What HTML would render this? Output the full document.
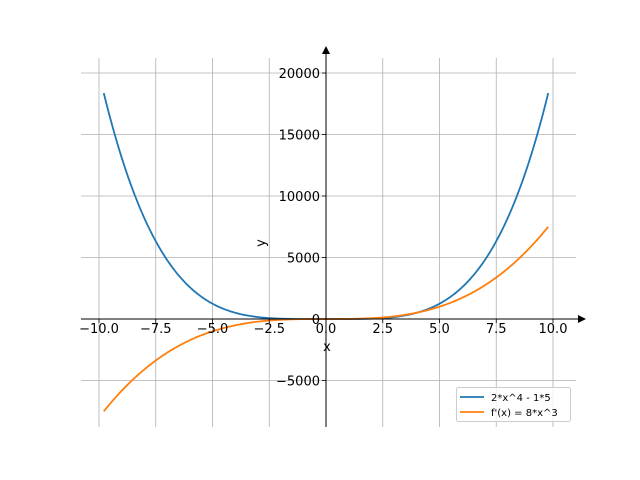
<!DOCTYPE html>
<html><head><style>body{margin:0;background:#fff}svg{display:block}text{font-family:"DejaVu Sans","Liberation Sans",sans-serif;font-size:13px;fill:#000}</style></head>
<body>
<svg id="s" width="640" height="480" xmlns="http://www.w3.org/2000/svg">
<g id="grid" stroke="#b0b0b0" stroke-width="0.8"></g>
<path id="b" fill="none" stroke="#1f77b4" stroke-width="1.8"/>
<path id="o" fill="none" stroke="#ff7f0e" stroke-width="1.8"/>
<line x1="81" y1="319" x2="580" y2="319" stroke="#000" stroke-width="1"/>
<polygon points="586,319 578,315 578,323" fill="#000"/>
<line x1="326" y1="427" x2="326" y2="53" stroke="#000" stroke-width="1"/>
<polygon points="326,46 322,54 330,54" fill="#000"/>
<g id="ticks" stroke="#000" stroke-width="0.8"></g>
<g id="labels"></g>
<text x="327" y="351" text-anchor="middle">x</text>
<text transform="translate(265,243) rotate(-90)" text-anchor="middle">y</text>
<rect x="456.5" y="387.5" width="114" height="34" rx="2" fill="#fff" fill-opacity="0.8" stroke="#ccc"/>
<line x1="460" y1="397" x2="484" y2="397" stroke="#1f77b4" stroke-width="1.8"/>
<line x1="460" y1="412" x2="484" y2="412" stroke="#ff7f0e" stroke-width="1.8"/>
<text x="491" y="401" style="font-size:10px">2*x^4 - 1*5</text>
<text x="491" y="416" style="font-size:10px">f'(x) = 8*x^3</text>
</svg>
<script>
var X=function(v){return 326+v*22.7},Y=function(v){return 319-v*0.0123};
var g='',t='',l='';
for(var i=-4;i<=4;i++){var v=i*2.5,x=X(v);g+='<line x1="'+x+'" y1="58" x2="'+x+'" y2="427"/>';t+='<line x1="'+x+'" y1="319" x2="'+x+'" y2="323"/>';
l+='<text x="'+x+'" y="333" text-anchor="middle">'+(v<0?'\u2212':'')+Math.abs(v).toFixed(1)+'</text>';}
for(var j=-1;j<=4;j++){var v=j*5000,y=Y(v);g+='<line x1="81" y1="'+y+'" x2="576" y2="'+y+'"/>';t+='<line x1="322" y1="'+y+'" x2="326" y2="'+y+'"/>';
l+='<text x="320" y="'+(y+5)+'" text-anchor="end">'+(v<0?'\u2212':'')+Math.abs(v)+'</text>';}
document.getElementById('grid').innerHTML=g;document.getElementById('ticks').innerHTML=t;document.getElementById('labels').innerHTML=l;
var b='',o='';for(var k=0;k<=200;k++){var x=-9.79+19.58*k/200;b+=(k?'L':'M')+X(x).toFixed(2)+','+Y(2*Math.pow(x,4)-5).toFixed(2);o+=(k?'L':'M')+X(x).toFixed(2)+','+Y(8*x*x*x).toFixed(2);}
document.getElementById('b').setAttribute('d',b);document.getElementById('o').setAttribute('d',o);
</script>
</body></html>
